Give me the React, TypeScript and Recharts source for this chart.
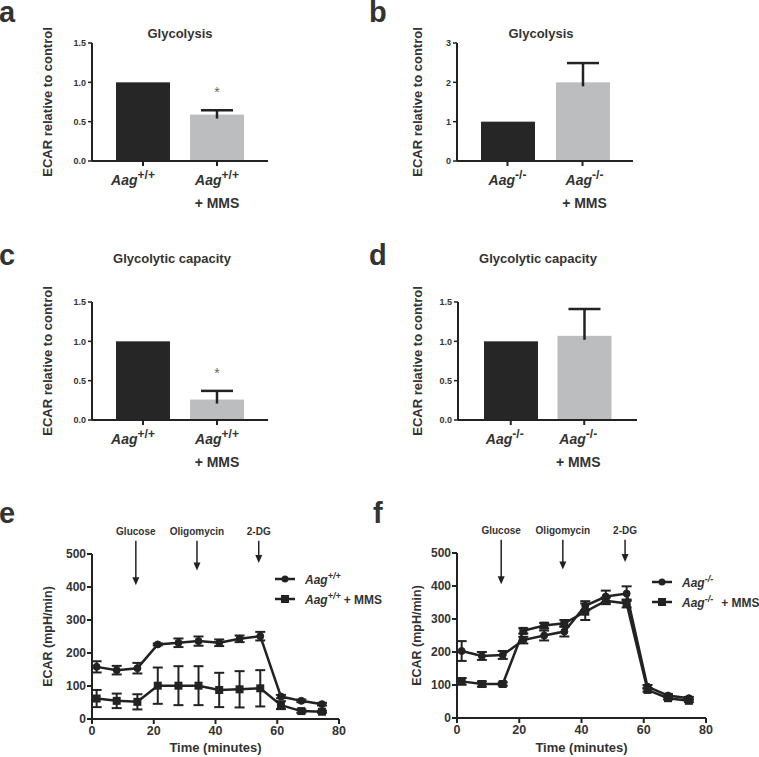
import {
  Bar,
  BarChart,
  Cell,
  ErrorBar,
  Legend,
  Line,
  LineChart,
  ReferenceLine,
  XAxis,
  YAxis,
} from "recharts";

const FONT = '"Liberation Sans", Arial, sans-serif';
const INK = "#222";
const TEXT = "#333";

// panels a-d: ECAR relative to control
const CATS_WT = ["Aag+/+", "Aag+/+ + MMS"];
const CATS_KO = ["Aag-/-", "Aag-/- + MMS"];
const GLYCO_WT = [1.0, 0.59];
const GLYCO_WT_SEM = [0, 0.055];
const GLYCO_KO = [1.0, 2.0];
const GLYCO_KO_SEM = [0, 0.49];
const CAPACITY_WT = [1.0, 0.26];
const CAPACITY_WT_SEM = [0, 0.11];
const CAPACITY_KO = [1.0, 1.07];
const CAPACITY_KO_SEM = [0, 0.34];
const SIGNIF_WT = [false, true];
const SIGNIF_KO = [false, false];
const BAR_COLORS = ["#262626", "#bcbdbf"];

// panels e-f: ECAR time course (mpH/min)
const TIME_MIN = [1.5, 8, 14.7, 21.3, 28, 34.5, 41.2, 47.8, 54.5, 61.2, 67.8, 74.5];
const WT_CTRL = [158, 148, 154, 226, 231, 236, 231, 243, 251, 68, 55, 45];
const WT_CTRL_SEM = [17, 13, 16, 3, 13, 14, 10, 10, 13, 5, 4, 4];
const WT_MMS = [62, 55, 52, 101, 101, 101, 88, 90, 93, 42, 24, 22];
const WT_MMS_SEM = [26, 22, 23, 55, 59, 59, 52, 55, 55, 12, 5, 3];
const KO_CTRL = [203, 188, 191, 236, 250, 262, 340, 368, 377, 95, 68, 60];
const KO_CTRL_SEM = [30, 12, 12, 10, 15, 15, 14, 18, 22, 5, 5, 4];
const KO_MMS = [111, 103, 103, 264, 280, 287, 322, 355, 347, 85, 60, 52];
const KO_MMS_SEM = [10, 8, 5, 8, 8, 10, 25, 10, 12, 5, 4, 4];

const INJECTIONS = ["Glucose", "Oligomycin", "2-DG"];
const INJECTION_TIME = [14.2, 34, 54];
const ARROW_FROM = 540;
const ARROW_TO = [405, 450, 473];

function SvgText({ ax, ay, rotate, children, size = 13 }: any) {
  return (
    <text
      x={ax}
      y={ay}
      transform={rotate ? `rotate(-90 ${ax} ${ay})` : undefined}
      textAnchor="middle"
      dominantBaseline={rotate ? "central" : undefined}
      fontFamily={FONT}
      fontSize={size}
      fontWeight="bold"
      fill={TEXT}
    >
      {children}
    </text>
  );
}

function GenoTick(props: any) {
  const { x, y, payload, index, shifts } = props;
  const label: string = payload.value;
  const mms = label.endsWith(" + MMS");
  const base = mms ? label.slice(0, -6) : label;
  const tx = x + (shifts?.[index] ?? 0);
  return (
    <g fill={TEXT} fontFamily={FONT} fontWeight="bold">
      <text x={tx} y={y + 17} textAnchor="middle" fontSize={14}>
        <tspan fontStyle="italic">{base.slice(0, 3)}</tspan>
        <tspan fontSize={12} dy={-6}>
          {base.slice(3)}
        </tspan>
      </text>
      {mms && (
        <text x={tx} y={y + 40} textAnchor="middle" fontSize={14}>
          + MMS
        </text>
      )}
    </g>
  );
}

function SemBar(props: any) {
  const { x, y, width, height, fill, payload } = props;
  const k = payload.value ? height / payload.value : 0;
  const cx = x + width / 2;
  const top = y - payload.sem * k;
  return (
    <g>
      <rect x={x} y={y} width={width} height={height} fill={fill} />
      {payload.sem > 0 && (
        <g stroke={INK} strokeWidth={2.5}>
          <line x1={cx} y1={y + 4} x2={cx} y2={top} />
          <line x1={cx - 16} y1={top} x2={cx + 16} y2={top} />
        </g>
      )}
      {payload.star && (
        <text x={cx} y={top - 13} textAnchor="middle" fontFamily={FONT} fontSize={14} fill="#666">
          *
        </text>
      )}
    </g>
  );
}

function BarPanel({ left, top, width, height, margin, cats, values, sems, stars, yMax, yTicks, digits, pad, shifts, titleX }: any) {
  const data = cats.map((name: string, i: number) => ({ name, value: values[i], sem: sems[i], star: stars[i] }));
  const plotH = height - margin.top - margin.bottom - 60;
  return (
    <div style={{ position: "absolute", left, top }}>
      <BarChart width={width} height={height} data={data} margin={margin}>
        <XAxis
          dataKey="name"
          height={60}
          padding={{ left: pad, right: pad }}
          axisLine={{ stroke: INK, strokeWidth: 2 }}
          tickLine={{ stroke: INK, strokeWidth: 2 }}
          tickSize={5}
          interval={0}
          tick={(p: any) => <GenoTick {...p} shifts={shifts} />}
        />
        <YAxis
          width={40}
          domain={[0, yMax]}
          ticks={yTicks}
          tickFormatter={(v: number) => v.toFixed(digits)}
          axisLine={{ stroke: INK, strokeWidth: 2 }}
          tickLine={{ stroke: INK, strokeWidth: 1.5 }}
          tickSize={4}
          tickMargin={2}
          tick={{ fontSize: 9, fontWeight: "bold", fill: TEXT, fontFamily: FONT }}
          label={
            <SvgText ax={titleX} ay={margin.top + plotH / 2} rotate>
              ECAR relative to control
            </SvgText>
          }
        />
        <Bar dataKey="value" barSize={54} isAnimationActive={false} shape={(p: any) => <SemBar {...p} />}>
          {data.map((d: any, i: number) => (
            <Cell key={d.name} fill={BAR_COLORS[i]} />
          ))}
        </Bar>
      </BarChart>
    </div>
  );
}

function InjectionArrow(props: any) {
  const { x1, y1, x2, y2, name } = props;
  return (
    <g>
      <text x={x1} y={y1 - 6} textAnchor="middle" fontFamily={FONT} fontSize={10} fontWeight="bold" fill={TEXT}>
        {name}
      </text>
      <line x1={x1} y1={y1} x2={x2} y2={y2 - 6} stroke={INK} strokeWidth={1.5} />
      <path d={`M${x2 - 3.5},${y2 - 8} L${x2 + 3.5},${y2 - 8} L${x2},${y2} Z`} fill={INK} />
    </g>
  );
}

function SquareDot(props: any) {
  const { cx, cy } = props;
  if (cx == null || cy == null) return <g />;
  return <rect x={cx - 4} y={cy - 4} width={8} height={8} fill={INK} />;
}

function TimeLegend({ geno, gap }: any) {
  const rows = [false, true];
  return (
    <svg width={150} height={40} style={{ display: "block" }}>
      {rows.map((mms, i) => {
        const cy = 10 + 20 * i;
        return (
          <g key={i}>
            <line x1={5} y1={cy} x2={25} y2={cy} stroke={INK} strokeWidth={2.5} />
            {mms ? (
              <rect x={11} y={cy - 4} width={8} height={8} fill={INK} />
            ) : (
              <circle cx={15} cy={cy} r={3.5} fill={INK} />
            )}
            <text x={35} y={cy + 4.5} fontFamily={FONT} fontSize={12} fontWeight="bold" fill={TEXT}>
              <tspan fontStyle="italic">Aag</tspan>
              <tspan fontSize={9} dy={-5} fontStyle="italic">
                {geno}
              </tspan>
              {mms && (
                <tspan dy={5} dx={gap}>
                  + MMS
                </tspan>
              )}
            </text>
          </g>
        );
      })}
    </svg>
  );
}

function TimePanel({ left, top, width, margin, ctrl, ctrlSem, mms, mmsSem, geno, gap, legendPos, titleX }: any) {
  const data = TIME_MIN.map((t, i) => ({ t, ctrl: ctrl[i], ctrlSem: ctrlSem[i], mms: mms[i], mmsSem: mmsSem[i] }));
  const height = 277;
  const plotH = height - margin.top - margin.bottom - 38;
  const plotW = width - margin.left - margin.right - 40;
  return (
    <div style={{ position: "absolute", left, top }}>
      <LineChart width={width} height={height} data={data} margin={margin}>
        <XAxis
          type="number"
          dataKey="t"
          domain={[0, 80]}
          ticks={[0, 20, 40, 60, 80]}
          height={38}
          axisLine={{ stroke: INK, strokeWidth: 2 }}
          tickLine={{ stroke: INK, strokeWidth: 2 }}
          tickSize={5}
          tickMargin={2}
          tick={{ fontSize: 12.5, fontWeight: "bold", fill: TEXT, fontFamily: FONT }}
          label={
            <SvgText ax={margin.left + 40 + plotW / 2} ay={height - 5} size={13}>
              Time (minutes)
            </SvgText>
          }
        />
        <YAxis
          width={40}
          domain={[0, 500]}
          ticks={[0, 100, 200, 300, 400, 500]}
          axisLine={{ stroke: INK, strokeWidth: 2 }}
          tickLine={{ stroke: INK, strokeWidth: 2 }}
          tickSize={5}
          tickMargin={1}
          tick={{ fontSize: 12, fontWeight: "bold", fill: TEXT, fontFamily: FONT }}
          label={
            <SvgText ax={titleX} ay={margin.top + plotH / 2} rotate size={12.5}>
              ECAR (mpH/min)
            </SvgText>
          }
        />
        {INJECTIONS.map((name, i) => (
          <ReferenceLine
            key={name}
            ifOverflow="visible"
            segment={[
              { x: INJECTION_TIME[i], y: ARROW_FROM },
              { x: INJECTION_TIME[i], y: ARROW_TO[i] },
            ]}
            shape={(p: any) => <InjectionArrow {...p} name={name} />}
          />
        ))}
        <Line
          dataKey="ctrl"
          stroke={INK}
          strokeWidth={2.5}
          dot={{ r: 3.5, fill: INK, stroke: INK, strokeWidth: 1 }}
          isAnimationActive={false}
        >
          <ErrorBar dataKey="ctrlSem" direction="y" width={5} stroke={INK} strokeWidth={2} />
        </Line>
        <Line dataKey="mms" stroke={INK} strokeWidth={2.5} dot={<SquareDot />} isAnimationActive={false}>
          <ErrorBar dataKey="mmsSem" direction="y" width={5} stroke={INK} strokeWidth={2} />
        </Line>
        <Legend
          layout="vertical"
          align="center"
          verticalAlign="middle"
          wrapperStyle={{ top: legendPos[1], left: legendPos[0], width: 150, height: 40 }}
          content={() => <TimeLegend geno={geno} gap={gap} />}
        />
      </LineChart>
    </div>
  );
}

const letterStyle = { fontFamily: FONT, fontWeight: "bold", fontSize: 29, fill: "#333" } as const;
const titleStyle = { fontFamily: FONT, fontWeight: "bold", fontSize: 13, fill: TEXT } as const;

export default function App() {
  return (
    <div style={{ position: "absolute", left: 0, top: 0, width: 759, height: 757, background: "#fff", overflow: "hidden" }}>
      <svg width={759} height={757} style={{ position: "absolute", left: 0, top: 0 }}>
        <text x={-1} y={22} {...letterStyle}>a</text>
        <text x={369} y={22} {...letterStyle}>b</text>
        <text x={-1} y={265} {...letterStyle}>c</text>
        <text x={369} y={265} {...letterStyle}>d</text>
        <text x={-1} y={523} {...letterStyle}>e</text>
        <text x={373} y={523} {...letterStyle}>f</text>
        <text x={180} y={37.5} textAnchor="middle" {...titleStyle}>Glycolysis</text>
        <text x={541} y={37.5} textAnchor="middle" {...titleStyle}>Glycolysis</text>
        <text x={172} y={263} textAnchor="middle" {...titleStyle}>Glycolytic capacity</text>
        <text x={538} y={263} textAnchor="middle" {...titleStyle}>Glycolytic capacity</text>
      </svg>

      <BarPanel
        left={0} top={0} width={380} height={230}
        margin={{ top: 43, right: 112, bottom: 9, left: 52 }}
        cats={CATS_WT} values={GLYCO_WT} sems={GLYCO_WT_SEM} stars={SIGNIF_WT}
        yMax={1.5} yTicks={[0, 0.5, 1, 1.5]} digits={1} pad={14} shifts={[-10, 0]} titleX={47}
      />
      <BarPanel
        left={380} top={0} width={379} height={230}
        margin={{ top: 43, right: 126, bottom: 9, left: 37 }}
        cats={CATS_KO} values={GLYCO_KO} sems={GLYCO_KO_SEM} stars={SIGNIF_KO}
        yMax={3} yTicks={[0, 1, 2, 3]} digits={0} pad={13} shifts={[0, 2]} titleX={37}
      />
      <BarPanel
        left={0} top={240} width={380} height={240}
        margin={{ top: 62, right: 112, bottom: 0, left: 52 }}
        cats={CATS_WT} values={CAPACITY_WT} sems={CAPACITY_WT_SEM} stars={SIGNIF_WT}
        yMax={1.5} yTicks={[0, 0.5, 1, 1.5]} digits={1} pad={14} shifts={[-10, 0]} titleX={47}
      />
      <BarPanel
        left={380} top={240} width={379} height={240}
        margin={{ top: 62, right: 122, bottom: 0, left: 38 }}
        cats={CATS_KO} values={CAPACITY_KO} sems={CAPACITY_KO_SEM} stars={SIGNIF_KO}
        yMax={1.5} yTicks={[0, 0.5, 1, 1.5]} digits={1} pad={16} shifts={[-6, -6]} titleX={37}
      />

      <TimePanel
        left={0} top={480} width={400}
        margin={{ top: 74, right: 61, bottom: 0, left: 52 }}
        ctrl={WT_CTRL} ctrlSem={WT_CTRL_SEM} mms={WT_MMS} mmsSem={WT_MMS_SEM}
        geno="+/+" gap={3} legendPos={[270, 89]} titleX={48}
      />
      <TimePanel
        left={380} top={480} width={379}
        margin={{ top: 73, right: 53, bottom: 1, left: 37 }}
        ctrl={KO_CTRL} ctrlSem={KO_CTRL_SEM} mms={KO_MMS} mmsSem={KO_MMS_SEM}
        geno="-/-" gap={8} legendPos={[267, 92]} titleX={37}
      />
    </div>
  );
}
